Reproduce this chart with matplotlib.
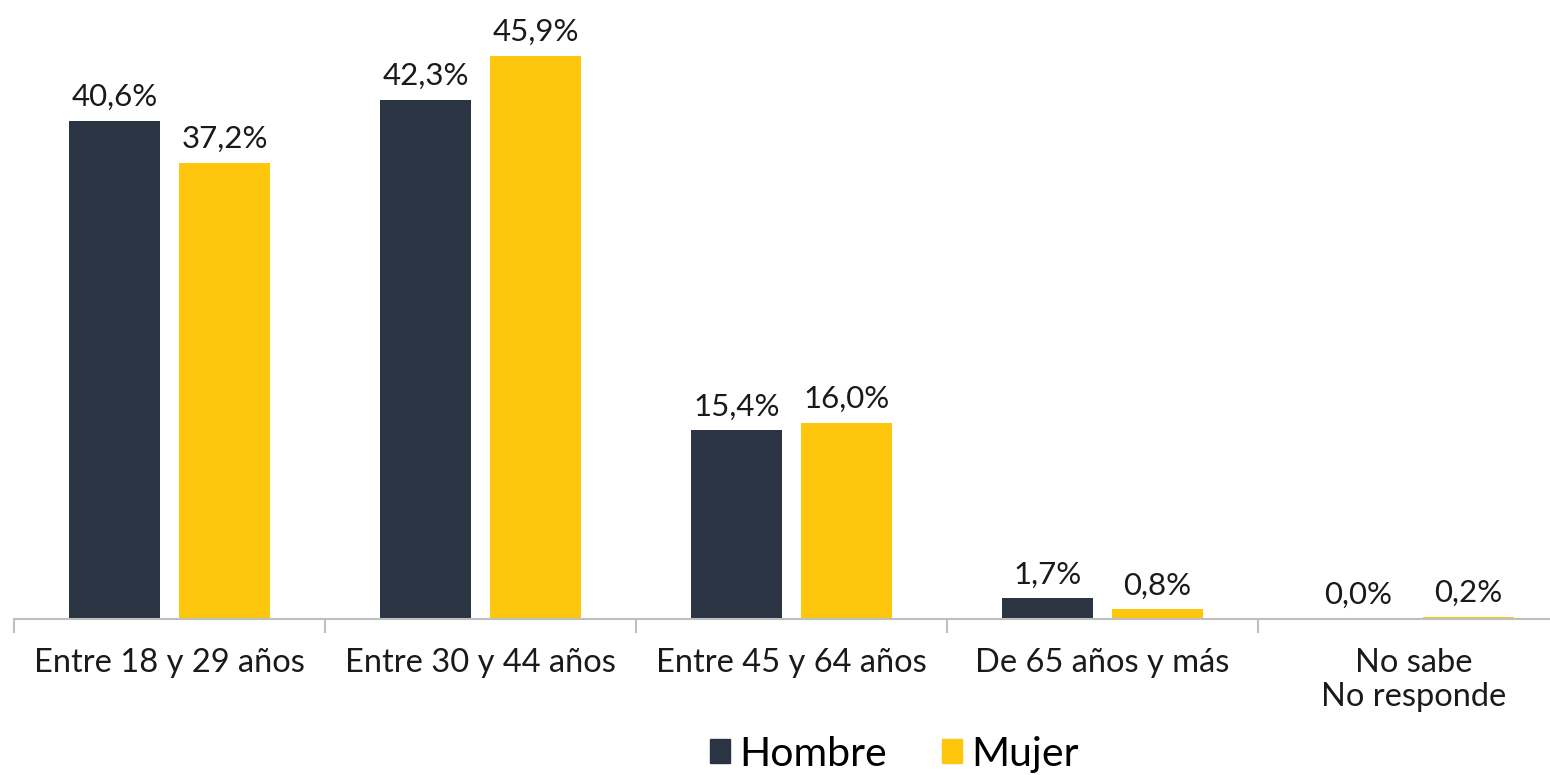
import numpy as np
import matplotlib.pyplot as plt
from matplotlib.patches import Patch

# Datos
categorias = ["Entre 18 y 29 años", "Entre 30 y 44 años", "Entre 45 y 64 años",
              "De 65 años y más", "No sabe\nNo responde"]
hombre = [40.6, 42.3, 15.4, 1.7, 0.0]
mujer = [37.2, 45.9, 16.0, 0.8, 0.2]
series = ["Hombre", "Mujer"]

COLOR_HOMBRE = "#2B3443"
COLOR_MUJER = "#FEC60D"
FUENTE = "Lato"

plt.rcParams["font.family"] = [FUENTE, "DejaVu Sans"]

fig = plt.figure(figsize=(15.5, 7.75), dpi=100)
ax = fig.add_axes([14 / 1550, 156 / 775, 1555 / 1550, 619 / 775])

x = np.arange(len(categorias))
ancho = 0.293
sep = 0.061
desp = (ancho + sep) / 2

b1 = ax.bar(x - desp, hombre, ancho, color=COLOR_HOMBRE)
b2 = ax.bar(x + desp, mujer, ancho, color=COLOR_MUJER)

for barras, valores in [(b1, hombre), (b2, mujer)]:
    for barra, v in zip(barras, valores):
        ax.annotate(f"{v:.1f}%".replace(".", ","),
                    (barra.get_x() + barra.get_width() / 2, v),
                    xytext=(0, 7), textcoords="offset points",
                    ha="center", va="bottom", fontsize=22.5, color="#1a1a1a")

ax.set_xlim(-0.5, len(categorias) - 0.5)
ax.set_ylim(0, 50.45)

for lado in ["top", "right", "left"]:
    ax.spines[lado].set_visible(False)
ax.spines["bottom"].set_color("#BFBFBF")
ax.spines["bottom"].set_linewidth(1.5)

ax.set_yticks([])
ax.set_xticks(np.arange(len(categorias) + 1) - 0.5, minor=False)
ax.set_xticklabels([])
ax.tick_params(axis="x", which="major", length=10, width=1.5, color="#BFBFBF")
ax.set_xticks(x, minor=True)
ax.set_xticklabels(categorias, minor=True, fontsize=23.5, color="#1a1a1a",
                   linespacing=1.18)
ax.tick_params(axis="x", which="minor", length=0, pad=21)

fig.legend(handles=[Patch(color=COLOR_HOMBRE), Patch(color=COLOR_MUJER)],
           labels=series, loc="center", bbox_to_anchor=(0.577, 0.027),
           ncol=2, frameon=False, fontsize=29.5, handlelength=0.49,
           handleheight=0.49, handletextpad=0.22, columnspacing=1.36)

fig.savefig("out.png", dpi=100)
